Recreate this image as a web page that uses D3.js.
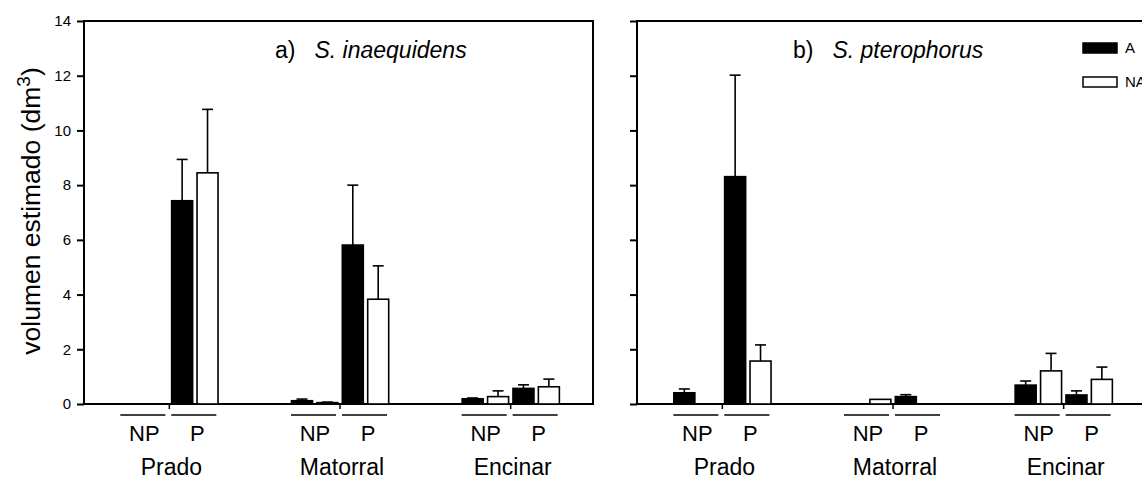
<!DOCTYPE html>
<html>
<head>
<meta charset="utf-8">
<script src="https://cdn.jsdelivr.net/npm/d3@7"></script>
<style>
body { margin: 0; background: #fff; }
text { font-family: Arial, "Liberation Sans", sans-serif; fill: #000; }
</style>
</head>
<body>
<svg id="chart" width="1142" height="482"></svg>
<script>
var sites = ["Prado", "Matorral", "Encinar"];
var treatments = ["NP", "P"];
var statuses = ["A", "NA"];
var yTicks = [0, 2, 4, 6, 8, 10, 12, 14];

// bar order in each site: NP-A, NP-NA, P-A, P-NA
var inaeqMean = [[0, 0, 7.43, 8.45], [0.12, 0.05, 5.81, 3.83], [0.19, 0.27, 0.57, 0.63]];
var inaeqSE   = [[0, 0, 1.51, 2.32], [0.06, 0.02, 2.19, 1.22], [0.03, 0.21, 0.13, 0.28]];
var pteroMean = [[0.41, 0, 8.31, 1.57], [0, 0.17, 0.27, 0], [0.69, 1.21, 0.33, 0.90]];
var pteroSE   = [[0.14, 0, 3.71, 0.59], [0, 0, 0.07, 0], [0.15, 0.64, 0.15, 0.45]];

var svg = d3.select("#chart");
var panelW = 509;

var y = d3.scaleLinear().domain([0, 14]).range([404, 21]);
var x0 = d3.scaleBand().domain(sites).range([0, 512]);
var barKeys = [];
treatments.forEach(function(t) { statuses.forEach(function(s) { barKeys.push(t + "-" + s); }); });
var x1 = d3.scaleBand().domain(barKeys).range([-48.5, 48.7]).paddingInner(0.173);

function drawPanel(left, label, species, titleX, mean, se, showLabels) {
    var g = svg.append("g").attr("transform", "translate(" + left + ",0)");

    // frame
    g.append("path")
        .attr("d", "M0," + y(0) + "V" + y(14) + "H" + panelW + "V" + y(0) + "H0")
        .attr("fill", "none")
        .attr("stroke", "#000")
        .attr("stroke-width", 2);

    var yAxis = d3.axisLeft(y).tickValues(yTicks).tickSize(7).tickPadding(6);
    if (!showLabels) yAxis.tickFormat("");
    var ag = g.append("g").call(yAxis);
    ag.select(".domain").remove();
    ag.attr("font-family", null).attr("font-size", null);
    ag.selectAll("line").attr("stroke-width", 2);
    ag.selectAll("text").style("font-size", "15px");

    sites.forEach(function(site, i) {
        var c = x0(site) + x0.bandwidth() / 2;
        barKeys.forEach(function(k, j) {
            var v = mean[i][j];
            if (v <= 0) return;
            var bx = c + x1(k);
            var isA = k.split("-")[1] == "A";
            g.append("rect")
                .attr("x", bx)
                .attr("y", y(v))
                .attr("width", x1.bandwidth())
                .attr("height", y(0) - y(v))
                .attr("fill", isA ? "#000" : "#fff")
                .attr("stroke", "#000")
                .attr("stroke-width", 1.6);
            var e = se[i][j];
            if (e > 0) {
                var mx = bx + x1.bandwidth() / 2;
                g.append("line")
                    .attr("x1", mx).attr("x2", mx)
                    .attr("y1", y(v)).attr("y2", y(v + e))
                    .attr("stroke", "#000").attr("stroke-width", 1.6);
                g.append("line")
                    .attr("x1", mx - 5.5).attr("x2", mx + 5.5)
                    .attr("y1", y(v + e)).attr("y2", y(v + e))
                    .attr("stroke", "#000").attr("stroke-width", 1.6);
            }
        });

        // small tick under the group
        g.append("line")
            .attr("x1", c).attr("x2", c)
            .attr("y1", y(0)).attr("y2", y(0) + 5)
            .attr("stroke", "#000").attr("stroke-width", 1.5);

        // lines under NP / P
        g.append("line")
            .attr("x1", c - 49).attr("x2", c - 4)
            .attr("y1", 415).attr("y2", 415)
            .attr("stroke", "#000").attr("stroke-width", 1.5);
        g.append("line")
            .attr("x1", c + 2).attr("x2", c + 47)
            .attr("y1", 415).attr("y2", 415)
            .attr("stroke", "#000").attr("stroke-width", 1.5);

        g.append("text")
            .attr("x", c - 25).attr("y", 441)
            .attr("text-anchor", "middle")
            .style("font-size", "22px")
            .text(treatments[0]);
        g.append("text")
            .attr("x", c + 28).attr("y", 441)
            .attr("text-anchor", "middle")
            .style("font-size", "22px")
            .text(treatments[1]);
        g.append("text")
            .attr("x", c + 2).attr("y", 475)
            .attr("text-anchor", "middle")
            .style("font-size", "23px")
            .text(site);
    });

    var t = g.append("text")
        .attr("x", titleX).attr("y", 58)
        .style("font-size", "23px");
    t.append("tspan").text(label);
    t.append("tspan").attr("dx", 19).style("font-style", "italic").text(species);
}

drawPanel(84, "a)", "S. inaequidens", 191, inaeqMean, inaeqSE, true);
drawPanel(637, "b)", "S. pterophorus", 156, pteroMean, pteroSE, false);

// y label
var yl = svg.append("text")
    .attr("transform", "translate(40,211) rotate(-90)")
    .attr("text-anchor", "middle")
    .style("font-size", "26.5px");
yl.append("tspan").text("volumen estimado (dm");
yl.append("tspan").attr("dy", -10).style("font-size", "19px").text("3");
yl.append("tspan").attr("dy", 10).text(")");

// legend
var legend = svg.append("g").attr("transform", "translate(1083,0)");
statuses.forEach(function(s, i) {
    legend.append("rect")
        .attr("x", 0).attr("y", 43 + i * 34)
        .attr("width", 34).attr("height", 10)
        .attr("fill", s == "A" ? "#000" : "#fff")
        .attr("stroke", "#000").attr("stroke-width", 1.5);
    legend.append("text")
        .attr("x", 42).attr("y", 53 + i * 34)
        .style("font-size", "15px")
        .text(s);
});
</script>
</body>
</html>
